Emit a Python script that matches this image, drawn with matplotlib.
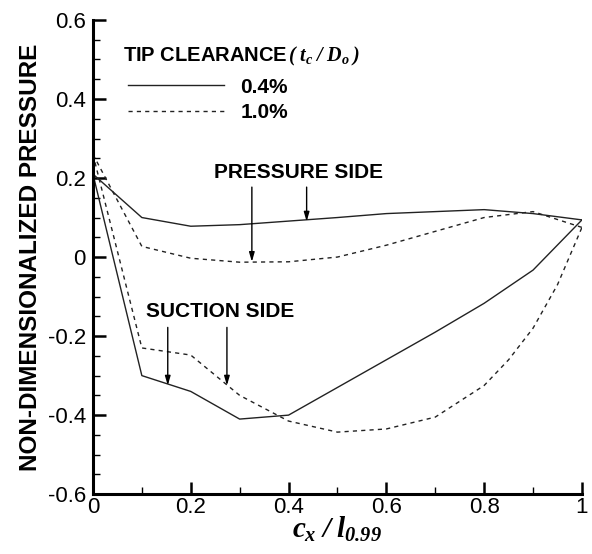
import matplotlib
matplotlib.use('Agg')
import matplotlib.pyplot as plt
import numpy as np

plt.rcParams['font.family'] = ['Liberation Sans', 'DejaVu Sans']
plt.rcParams['mathtext.fontset'] = 'custom'
plt.rcParams['mathtext.it'] = 'Liberation Serif:bold:italic'
plt.rcParams['mathtext.rm'] = 'Liberation Serif:bold:italic'

# pressure / suction side, tip clearance 0.4% (solid)
x_ps_04 = [0.0, 0.1, 0.2, 0.3, 0.4, 0.5, 0.6, 0.7, 0.8, 0.9, 1.0]
y_ps_04 = [0.21, 0.10, 0.078, 0.082, 0.091, 0.10, 0.11, 0.115, 0.12, 0.11, 0.094]
x_ss_04 = [0.0, 0.1, 0.2, 0.3, 0.4, 0.5, 0.6, 0.7, 0.8, 0.9, 1.0]
y_ss_04 = [0.21, -0.30, -0.34, -0.41, -0.40, -0.33, -0.26, -0.19, -0.117, -0.033, 0.094]

# tip clearance 1.0% (dashed)
x_ps_10 = [0.0, 0.1, 0.2, 0.3, 0.4, 0.5, 0.6, 0.7, 0.8, 0.9, 1.0]
y_ps_10 = [0.26, 0.027, -0.003, -0.013, -0.012, 0.0, 0.03, 0.065, 0.10, 0.115, 0.075]
x_ss_10 = [0.0, 0.1, 0.2, 0.3, 0.4, 0.5, 0.6, 0.7, 0.8, 0.85, 0.9, 0.95, 1.0]
y_ss_10 = [0.26, -0.23, -0.248, -0.35, -0.415, -0.443, -0.435, -0.405, -0.325, -0.26, -0.18, -0.07, 0.075]

fig = plt.figure(figsize=(5.92, 5.54), dpi=100)
ax = fig.add_axes([0.157, 0.108, 0.826, 0.856])

lc = '#222222'
ax.plot(x_ps_04, y_ps_04, color=lc, lw=1.0, label='0.4%')
ax.plot(x_ss_04, y_ss_04, color=lc, lw=1.0)
ax.plot(x_ps_10, y_ps_10, color=lc, lw=1.0, ls=(0, (3, 3)), label='1.0%')
ax.plot(x_ss_10, y_ss_10, color=lc, lw=1.0, ls=(0, (3, 3)))

ax.set_xlim(0, 1)
ax.set_ylim(-0.6, 0.6)
ax.set_xticks([0, 0.2, 0.4, 0.6, 0.8, 1])
ax.set_xticklabels(['0', '0.2', '0.4', '0.6', '0.8', '1'])
ax.set_yticks([-0.6, -0.4, -0.2, 0, 0.2, 0.4, 0.6])
ax.set_yticklabels(['-0.6', '-0.4', '-0.2', '0', '0.2', '0.4', '0.6'])
ax.set_xticks(np.arange(0, 1.01, 0.1), minor=True)
ax.set_yticks(np.arange(-0.6, 0.61, 0.05), minor=True)
ax.tick_params(which='major', direction='in', length=9, width=1.8, labelsize=16, pad=2)
ax.tick_params(axis='y', which='major', pad=5)
ax.tick_params(which='minor', direction='in', length=5, width=1.0)
for s in ['top', 'right']:
    ax.spines[s].set_visible(False)
for s in ['left', 'bottom']:
    ax.spines[s].set_linewidth(2.2)

ax.set_ylabel('NON-DIMENSIONALIZED PRESSURE', fontsize=17.5, fontweight='bold', labelpad=4)
ax.set_xlabel(r'$c_x\;/\;l_{0.99}$', fontsize=21, labelpad=-2)

ax.text(0.062, 0.924, r'TIP CLEARANCE$\,(\;t_c\;/\;D_o\;)$', transform=ax.transAxes,
        fontsize=14.5, fontweight='bold', va='center')
leg = ax.legend(loc='upper left', bbox_to_anchor=(0.033, 0.918), frameon=False,
                handlelength=4.6, handletextpad=0.8, labelspacing=0.3,
                prop={'size': 15, 'weight': 'bold'})

arrow = dict(arrowstyle='-|>,head_length=0.55,head_width=0.16', color='black', lw=1.0,
             shrinkA=0, shrinkB=0)
ax.text(0.42, 0.215, 'PRESSURE SIDE', fontsize=15, fontweight='bold', ha='center', va='center')
ax.annotate('', xy=(0.437, 0.09), xytext=(0.437, 0.177), arrowprops=arrow)
ax.annotate('', xy=(0.325, -0.012), xytext=(0.325, 0.177), arrowprops=arrow)
ax.text(0.26, -0.139, 'SUCTION SIDE', fontsize=15, fontweight='bold', ha='center', va='center')
ax.annotate('', xy=(0.153, -0.325), xytext=(0.153, -0.178), arrowprops=arrow)
ax.annotate('', xy=(0.274, -0.325), xytext=(0.274, -0.178), arrowprops=arrow)

fig.savefig('out.png', dpi=100)
